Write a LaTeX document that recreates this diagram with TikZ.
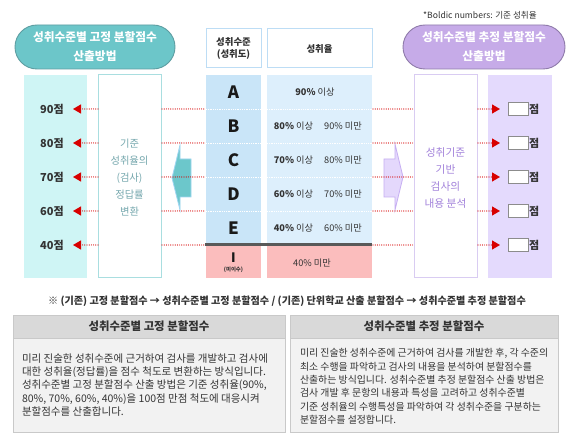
\documentclass[tikz,border=0pt]{standalone}
\usepackage{fontspec}
\setmainfont{Noto Sans CJK KR}
\usetikzlibrary{arrows.meta}
\newcommand\myfs[2]{\fontsize{#1pt}{#2pt}\selectfont}
\definecolor{tealF}{HTML}{6CC6C9}
\definecolor{tealD}{HTML}{5E9EA2}
\definecolor{cyanCol}{HTML}{CFF5F5}
\definecolor{tealBoxB}{HTML}{A9DEE0}
\definecolor{tealTxt}{HTML}{76A8AE}
\definecolor{tealArr}{HTML}{6CC7CB}
\definecolor{tealArrB}{HTML}{9FD6F2}
\definecolor{lavF}{HTML}{C6ABE8}
\definecolor{lavD}{HTML}{8F7BAA}
\definecolor{lavCol}{HTML}{E4DAFD}
\definecolor{lavBoxB}{HTML}{D9CCF2}
\definecolor{lavTxt}{HTML}{A383DB}
\definecolor{lavArr}{HTML}{E4D8FC}
\definecolor{lavArrB}{HTML}{C6AEF2}
\definecolor{hdrB}{HTML}{BDDDF5}
\definecolor{lvlF}{HTML}{C9E5F8}
\definecolor{rateF}{HTML}{DDEFFC}
\definecolor{pinkF}{HTML}{FBBDBD}
\definecolor{thickL}{HTML}{595959}
\definecolor{arrRed}{HTML}{D80000}
\definecolor{botHdr}{HTML}{D9D9D9}
\definecolor{botBody}{HTML}{F2F2F2}
\definecolor{botB}{HTML}{C9C9C9}
\definecolor{txt}{HTML}{333333}
\begin{document}
\begin{tikzpicture}[x=1pt,y=-1pt,
  every node/.style={inner sep=0pt,outer sep=0pt,text=txt},
  pill/.style={rounded corners=22pt,line width=0.9pt,text=white,font=\myfs{11.7}{19}\bfseries,align=center,minimum height=44pt},
  colbox/.style={draw=none,minimum width=63pt,minimum height=203pt},
  wbox/.style={fill=white,line width=1pt,minimum width=63pt,minimum height=203pt},
  hdr/.style={draw=hdrB,fill=white,line width=1pt,minimum height=39pt,font=\myfs{9.4}{12.5}\bfseries,align=center},
  lvl/.style={font=\myfs{17}{17}\bfseries,text=black!90},
  rt/.style={font=\myfs{9.2}{10}},
  redln/.style={draw=arrRed,line width=1.2pt,line cap=round,dash pattern=on 0pt off 2.2pt},
  redtip/.style={redln,-{Triangle[length=8pt,width=9pt,line cap=butt]}},
  scorelbl/.style={font=\myfs{11}{12}\bfseries},
  sbox/.style={draw=black!45,fill=white,line width=0.8pt,minimum width=20pt,minimum height=13pt},
  bhdr/.style={fill=botHdr,draw=botB,line width=0.8pt,minimum height=23pt,font=\myfs{11.4}{12}\bfseries},
  bbody/.style={fill=botBody,draw=botB,line width=0.8pt,minimum height=117pt}
]
\useasboundingbox (0,0) rectangle (574,441);
\fill[white] (0,0) rectangle (574,441);

% top note
\node[font=\myfs{8.6}{9}] (note) at (480,15) {*Boldic numbers: 기준 성취율};

% pills
\node[pill,fill=tealF,draw=tealD,minimum width=160pt] (pillL) at (95,47) {성취수준별 고정 분할점수\\산출방법};
\node[pill,fill=lavF,draw=lavD,minimum width=162pt] (pillR) at (484,47) {성취수준별 추정 분할점수\\산출방법};

% columns
\node[colbox,fill=cyanCol] (colL) at (55.5,176.5) {};
\node[wbox,draw=tealBoxB] (boxL) at (129.5,176.5) {};
\node[colbox,fill=lavCol,minimum width=64pt] (colR) at (520,176.5) {};
\node[wbox,draw=lavBoxB] (boxR) at (445.5,176.5) {};

% table headers
\node[hdr,minimum width=55pt] (hLvl) at (233.5,48.5) {성취수준\\(성취도)};
\node[hdr,minimum width=105pt] (hRate) at (319.5,48.5) {성취율};

% table columns
\node[fill=lvlF,minimum width=55pt,minimum height=170pt] (lvlCol) at (233.5,160) {};
\node[fill=rateF,minimum width=105pt,minimum height=170pt] (rateCol) at (319.5,160) {};
\node[fill=pinkF,minimum width=55pt,minimum height=32pt] (pinkL) at (233.5,262) {};
\node[fill=pinkF,minimum width=105pt,minimum height=32pt] (pinkR) at (319.5,262) {};

% row separators inside table
\foreach \y in {109,143,177,211}{
  \draw[white,line width=0.8pt,densely dotted] (206,\y) -- (261,\y);
  \draw[white,line width=0.8pt,densely dotted] (267,\y) -- (372,\y);
}
\coordinate (thA) at (205,245);
\coordinate (thB) at (372,245);
\draw[thickL,line width=3pt] (thA) -- (thB);

% block arrows
\draw[fill=tealArr,draw=tealArrB,line width=0.8pt] (172,178) -- (180,145) -- (180,159) -- (191,159) -- (191,197) -- (180,197) -- (180,210) -- cycle;
\draw[fill=lavArr,draw=lavArrB,line width=0.8pt] (384,159) -- (395,159) -- (395,144) -- (403,177) -- (395,210) -- (395,197) -- (384,197) -- cycle;

% rows: red connectors, score labels, score boxes
\foreach \y/\sv [count=\i] in {109/90,143/80,177/70,211/60,245/40}{
  \coordinate (Lb\i) at (98,\y);
  \coordinate (Lt\i) at (73,\y);
  \coordinate (Ma\i) at (162,\y);
  \coordinate (Mb\i) at (205,\y);
  \coordinate (Na\i) at (373,\y);
  \coordinate (Nb\i) at (414,\y);
  \coordinate (Rb\i) at (478,\y);
  \coordinate (Rt\i) at (500,\y);
  \draw[redtip] (Lb\i) -- (Lt\i);
  \draw[redln] (Ma\i) -- (Mb\i);
  \draw[redln] (Na\i) -- (Nb\i);
  \draw[redtip] (Rb\i) -- (Rt\i);
  \node[scorelbl] (sc\i) at (52,\y) {\sv{}점};
  \node[sbox] (sb\i) at (518,\y) {};
  \node[scorelbl,anchor=west] (jm\i) at (529,\y) {점};
}

% box texts
\node[font=\myfs{10.3}{17.2},text=tealTxt,align=center] (tL) at (129.5,177.5) {기준\\성취율의\\(검사)\\정답률\\변환};
\node[font=\myfs{10.7}{17},text=lavTxt,align=center] (tR) at (445.5,177.5) {성취기준\\기반\\검사의\\내용 분석};

% level letters
\node[lvl] (lA) at (233.5,92) {A};
\node[lvl] (lB) at (233.5,126) {B};
\node[lvl] (lC) at (233.5,160) {C};
\node[lvl] (lD) at (233.5,194) {D};
\node[lvl] (lE) at (233.5,228) {E};
\node[font=\myfs{13}{13}\bfseries,text=black!90] (lI) at (233.5,258) {I};
\node[font=\myfs{5.4}{6}\bfseries] (lIs) at (233.5,270) {(미이수)};

% rate texts
\node[rt] (rA) at (315,92) {\textbf{90\%} 이상};
\node[rt] (rB1) at (293.5,126) {\textbf{80\%} 이상};
\node[rt] (rB2) at (343,126) {90\% 미만};
\node[rt] (rC1) at (293.5,160) {\textbf{70\%} 이상};
\node[rt] (rC2) at (343,160) {80\% 미만};
\node[rt] (rD1) at (293.5,194) {\textbf{60\%} 이상};
\node[rt] (rD2) at (343,194) {70\% 미만};
\node[rt] (rE1) at (293.5,228) {\textbf{40\%} 이상};
\node[rt] (rE2) at (343,228) {60\% 미만};
\node[rt] (rI) at (312,263) {40\% 미만};

% note line
\node[font=\myfs{10.1}{11}\bfseries] (remark) at (287,301) {※ (기존) 고정 분할점수 → 성취수준별 고정 분할점수 / (기존) 단위학교 산출 분할점수 → 성취수준별 추정 분할점수};

% bottom boxes
\node[bbody,minimum width=272pt] (bL) at (149,373.5) {};
\node[bhdr,minimum width=272pt] (bLh) at (149,326.5) {성취수준별 고정 분할점수};
\node[bbody,minimum width=268pt] (bR) at (424,373.5) {};
\node[bhdr,minimum width=268pt] (bRh) at (424,326.5) {성취수준별 추정 분할점수};

\node[anchor=west,align=left,font=\myfs{10.5}{13.2}] (tbL) at (22,385) {미리 진술한 성취수준에 근거하여 검사를 개발하고 검사에\\대한 성취율(정답률)을 점수 척도로 변환하는 방식입니다.\\성취수준별 고정 분할점수 산출 방법은 기준 성취율(90\%,\\80\%, 70\%, 60\%, 40\%)을 100점 만점 척도에 대응시켜\\분할점수를 산출합니다.};
\node[anchor=west,align=left,font=\myfs{9.9}{13.3}] (tbR) at (300,386.5) {미리 진술한 성취수준에 근거하여 검사를 개발한 후, 각 수준의\\최소 수행을 파악하고 검사의 내용을 분석하여 분할점수를\\산출하는 방식입니다. 성취수준별 추정 분할점수 산출 방법은\\검사 개발 후 문항의 내용과 특성을 고려하고 성취수준별\\기준 성취율의 수행특성을 파악하여 각 성취수준을 구분하는\\분할점수를 설정합니다.};
\end{tikzpicture}
\end{document}
